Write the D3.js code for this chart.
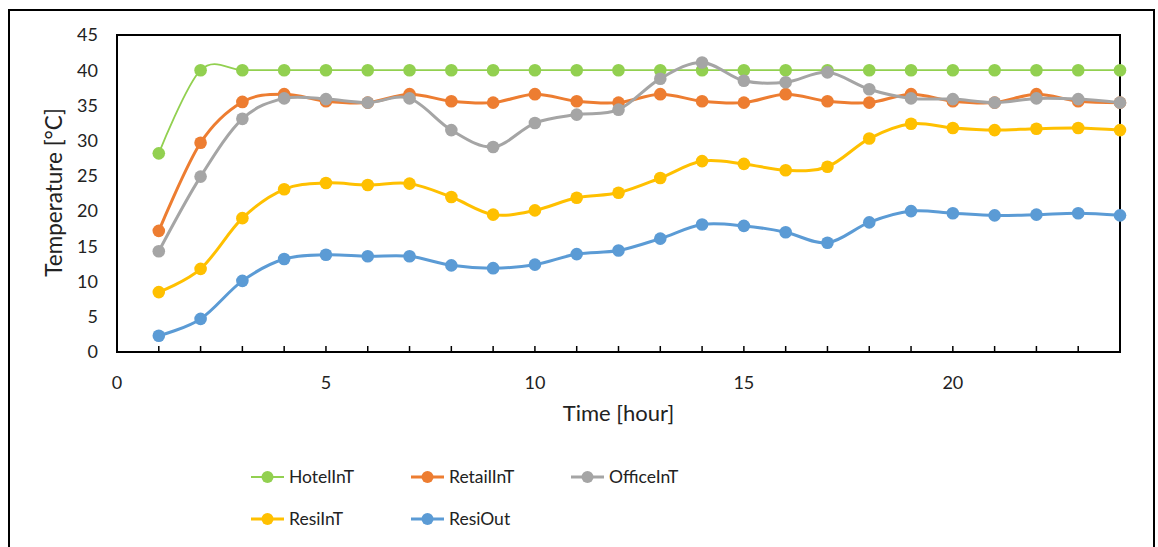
<!DOCTYPE html>
<html>
<head>
<meta charset="utf-8">
<script src="https://cdn.jsdelivr.net/npm/d3@7/dist/d3.min.js"></script>
<style>
  html, body { margin: 0; padding: 0; background: #fff; }
  svg { display: block; font-family: Lato, "Open Sans", sans-serif; }
</style>
</head>
<body>
<svg id="chart" width="1158" height="547"></svg>
<script>
// Hourly temperatures, hours 1..24
const hours = d3.range(1, 25);
const hotelInT  = [28.2, 40, 40, 40, 40, 40, 40, 40, 40, 40, 40, 40, 40, 40, 40, 40, 40, 40, 40, 40, 40, 40, 40, 40];
const retailInT = [17.2, 29.7, 35.5, 36.6, 35.6, 35.4, 36.6, 35.6, 35.4, 36.6, 35.6, 35.4, 36.6, 35.6, 35.4, 36.6, 35.6, 35.4, 36.6, 35.6, 35.4, 36.6, 35.6, 35.4];
const officeInT = [14.3, 24.9, 33.1, 36.0, 35.9, 35.4, 36.0, 31.5, 29.1, 32.5, 33.7, 34.4, 38.8, 41.1, 38.5, 38.3, 39.7, 37.3, 36.0, 35.9, 35.4, 36.0, 35.9, 35.4];
const resiInT   = [8.5, 11.8, 19.0, 23.1, 24.0, 23.7, 23.9, 22.0, 19.5, 20.1, 21.9, 22.6, 24.7, 27.1, 26.7, 25.8, 26.3, 30.3, 32.4, 31.8, 31.5, 31.7, 31.8, 31.5];
const resiOut   = [2.3, 4.7, 10.1, 13.2, 13.8, 13.6, 13.6, 12.3, 11.9, 12.4, 13.9, 14.4, 16.1, 18.1, 17.9, 17.0, 15.5, 18.4, 20.0, 19.7, 19.4, 19.5, 19.7, 19.4];

const seriesNames  = ["HotelInT", "RetailInT", "OfficeInT", "ResiInT", "ResiOut"];
const seriesValues = [hotelInT, retailInT, officeInT, resiInT, resiOut];
const seriesColors = ["#92D050", "#ED7D31", "#A5A5A5", "#FFC000", "#5B9BD5"];
const seriesWidths = [1.8, 3, 3, 3, 3];

const xTicks = [0, 5, 10, 15, 20];
const yTicks = [0, 5, 10, 15, 20, 25, 30, 35, 40, 45];

const svg = d3.select("#chart");
const plot = { left: 117, top: 35, right: 1120, bottom: 352 };

const x = d3.scaleLinear().domain([0, 24]).range([plot.left, plot.right]);
const y = d3.scaleLinear().domain([0, 45]).range([plot.bottom, plot.top]);

// Outer chart frame
svg.append("rect")
  .attr("x", 9).attr("y", 10).attr("width", 1145).attr("height", 560)
  .attr("fill", "none").attr("stroke", "#000").attr("stroke-width", 2);

// Plot area box
svg.append("rect")
  .attr("x", plot.left).attr("y", plot.top)
  .attr("width", plot.right - plot.left).attr("height", plot.bottom - plot.top)
  .attr("fill", "none").attr("stroke", "#000").attr("stroke-width", 2);

// X axis: inward ticks at each hour, labels every 5 hours
const xAxisG = svg.append("g").attr("transform", `translate(0,${plot.bottom})`);
xAxisG.selectAll("line.tick")
  .data(d3.range(1, 24))
  .join("line")
  .attr("class", "tick")
  .attr("x1", d => x(d)).attr("x2", d => x(d))
  .attr("y1", 0).attr("y2", -6)
  .attr("stroke", "#000").attr("stroke-width", 1.5);
xAxisG.selectAll("text")
  .data(xTicks)
  .join("text")
  .attr("x", d => x(d)).attr("y", 37)
  .attr("text-anchor", "middle")
  .attr("font-size", 18).attr("fill", "#222")
  .text(d => d);

// Y axis labels
svg.append("g").selectAll("text")
  .data(yTicks)
  .join("text")
  .attr("x", 98).attr("y", d => y(d))
  .attr("dy", "0.35em")
  .attr("text-anchor", "end")
  .attr("font-size", 18).attr("fill", "#222")
  .text(d => d);

// Axis titles
svg.append("text")
  .attr("x", (plot.left + plot.right) / 2).attr("y", 421)
  .attr("text-anchor", "middle").attr("font-size", 22).attr("fill", "#222")
  .text("Time [hour]");
svg.append("text")
  .attr("transform", `translate(62,${(plot.top + plot.bottom) / 2 - 1}) rotate(-90)`)
  .attr("text-anchor", "middle").attr("font-size", 22.5).attr("fill", "#222")
  .text("Temperature [°C]");

// Smoothed series lines with circular markers
const line = d3.line()
  .x((d, i) => x(hours[i]))
  .y(d => y(d))
  .curve(d3.curveCatmullRom.alpha(0));

seriesValues.forEach((vals, s) => {
  const g = svg.append("g");
  g.append("path")
    .datum(vals)
    .attr("d", line)
    .attr("fill", "none")
    .attr("stroke", seriesColors[s])
    .attr("stroke-width", seriesWidths[s]);
  g.selectAll("circle")
    .data(vals)
    .join("circle")
    .attr("cx", (d, i) => x(hours[i]))
    .attr("cy", d => y(d))
    .attr("r", 6.3)
    .attr("fill", seriesColors[s]);
});

// Legend
const legendPos = [
  { x: 251, y: 477 }, { x: 411, y: 477 }, { x: 571, y: 477 },
  { x: 251, y: 519 }, { x: 411, y: 519 }
];
seriesNames.forEach((name, s) => {
  const p = legendPos[s];
  const g = svg.append("g").attr("transform", `translate(${p.x},${p.y})`);
  g.append("line")
    .attr("x1", 0).attr("x2", 33).attr("y1", 0).attr("y2", 0)
    .attr("stroke", seriesColors[s]).attr("stroke-width", seriesWidths[s]);
  g.append("circle").attr("cx", 16.5).attr("cy", 0).attr("r", 6).attr("fill", seriesColors[s]);
  g.append("text")
    .attr("x", 38).attr("y", 0).attr("dy", "0.35em")
    .attr("font-size", 17.5).attr("fill", "#222")
    .text(name);
});
</script>
</body>
</html>
